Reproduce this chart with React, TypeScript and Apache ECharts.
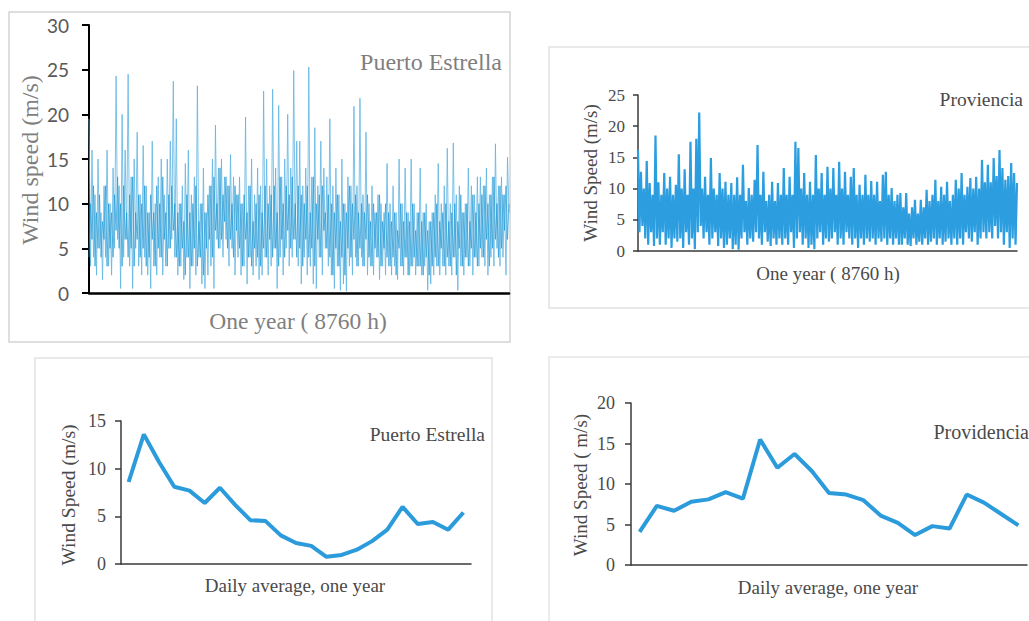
import React, { useEffect, useRef } from "react";
import * as echarts from "echarts";

// Puerto Estrella hourly wind speed (m/s): outer peaks/troughs across the year
const puertoHourly: number[] = [
  19.5, 3, 16, 4, 11, 2, 15, 5, 9, 1.5, 12, 4, 16, 3, 10, 2, 14, 5, 24.3, 6,
  12, 0.5, 20, 4, 16, 6, 24.5, 3, 13, 0.5, 15, 5, 18, 3, 11, 2, 16.5, 4, 12, 2,
  9, 0.5, 17, 3, 10, 2, 13, 4, 15, 2, 11, 3, 15, 5, 17, 6, 23.7, 4, 19.5, 2,
  10, 3, 12, 1.5, 14.5, 4, 16, 0.5, 11, 3, 13, 2, 23.2, 4, 10, 1, 14, 0.5, 9, 2,
  12, 3, 15, 0.5, 18.8, 6, 14, 5, 15, 4, 13, 6, 12, 3, 15.5, 5, 13, 2, 11, 4,
  13, 2, 10, 3, 19.7, 1, 12, 4, 15, 2, 11, 3, 14, 1.5, 12, 2, 22.6, 4, 15, 2,
  12, 3, 22.8, 5, 14, 0.5, 21, 4, 13, 2, 15, 5, 20, 3, 14, 4, 24.9, 6, 17, 3,
  17, 1, 12, 4, 14, 2, 25.3, 3, 13, 1, 18.5, 0.5, 12, 4, 17, 2, 14, 5, 13, 3,
  19.5, 2, 12, 0.5, 14, 3, 11, 0.3, 15, 1, 10, 0.2, 13, 3, 12, 2, 20.9, 4, 12, 3,
  21.8, 4, 11, 3, 18, 2, 10, 3, 12, 2, 9, 4, 11, 1.5, 10, 3, 9, 2, 14.5, 3,
  10, 2, 12, 3, 9, 1.5, 15, 3, 10, 2, 14, 4, 9, 2, 15, 3, 10, 2, 9, 3,
  14, 2, 9, 3, 10, 0.3, 8, 1, 9, 2, 11, 3, 14.5, 2, 10, 3, 12, 2, 16.2, 3,
  10, 2, 16.8, 4, 11, 0.3, 12, 3, 9, 2, 10, 4, 14, 3, 12, 2, 11, 4, 13, 3,
  13, 4, 12, 3, 14, 2, 11, 4, 13, 3, 16.7, 5, 12, 3, 13, 4, 11, 2, 15.2, 9,
];

// Puerto Estrella hourly wind speed (m/s): dense core band
const puertoHourlyCore: number[] = [
  4, 10, 6, 12, 3, 9, 5, 11, 4, 8, 6, 12, 3, 10, 5, 9, 4, 11, 7, 13,
  5, 10, 3, 12, 6, 9, 4, 11, 5, 13, 3, 9, 6, 11, 4, 10, 5, 12, 3, 9,
  4, 11, 6, 9, 3, 12, 5, 10, 4, 13, 6, 9, 3, 11, 5, 12, 7, 10, 4, 9,
  3, 10, 5, 8, 2, 11, 4, 9, 3, 10, 5, 12, 3, 8, 4, 10, 2, 9, 5, 11,
  6, 12, 4, 13, 7, 10, 5, 14, 6, 11, 8, 13, 5, 12, 6, 10, 4, 12, 7, 11,
  5, 10, 3, 11, 6, 9, 4, 12, 3, 8, 5, 10, 4, 11, 3, 9, 5, 12, 4, 10,
  6, 11, 4, 12, 5, 9, 3, 13, 6, 10, 4, 12, 7, 11, 5, 13, 6, 10, 4, 12,
  5, 11, 3, 10, 6, 12, 4, 9, 5, 13, 3, 10, 6, 11, 4, 12, 7, 9, 5, 11,
  4, 10, 2, 9, 5, 11, 3, 8, 4, 10, 2, 9, 5, 12, 4, 10, 6, 11, 3, 9,
  5, 10, 3, 9, 6, 11, 4, 8, 3, 10, 5, 9, 4, 11, 3, 8, 5, 10, 4, 9,
  3, 8, 4, 9, 2, 7, 5, 10, 3, 8, 4, 9, 2, 8, 3, 10, 4, 7, 3, 9,
  3, 8, 2, 9, 4, 7, 2, 8, 3, 9, 4, 10, 3, 8, 5, 9, 3, 10, 4, 8,
  3, 9, 4, 10, 2, 8, 5, 11, 3, 9, 4, 10, 3, 8, 5, 11, 4, 9, 3, 10,
  5, 11, 4, 12, 6, 10, 3, 11, 5, 13, 6, 10, 4, 12, 5, 11, 7, 12, 6, 10,
];

// Proviencia hourly wind speed (m/s)
const proviHourly: number[] = [
  16.2, 3, 12.7, 4, 10, 2, 14.4, 1, 10.9, 3, 9, 0.8, 18.5, 2, 11, 1, 9, 3, 12.5, 1,
  10, 2, 11.9, 0.5, 9, 2, 10.6, 1.5, 15.5, 2, 10, 0.5, 13.1, 3, 9, 1, 17.5, 2, 10, 0.3,
  18, 3, 22.2, 4, 10, 2, 11.9, 3, 9, 1, 14.9, 2, 10, 3, 9, 0.8, 12.5, 2, 10, 0.5,
  11.1, 1, 9, 2, 10.9, 0.3, 9, 1, 11.8, 0.2, 9, 2, 13.8, 3, 8, 1, 10.1, 2, 9, 1.5,
  11.4, 3, 17, 2, 9, 1, 12.7, 3, 8, 1.5, 9, 0.8, 11.1, 2, 8, 1, 10.9, 2, 9, 1,
  13.3, 2, 9, 1, 11.9, 3, 9, 0.5, 17.5, 2, 16.5, 3, 10, 1, 12.5, 2, 9, 0.5, 11.1, 1,
  9, 0.3, 15.4, 2, 10, 3, 12.5, 1, 9, 2, 13.5, 1.5, 10, 2, 13.3, 3, 9, 1, 14.3, 2,
  10, 1, 12.7, 3, 9, 2, 11.9, 1, 13.3, 2, 9, 0.5, 10.6, 2, 9, 1, 12.2, 2, 9, 1.5,
  11.2, 2, 9, 1, 11.1, 2, 8, 1.5, 12.2, 2, 12.7, 1, 9, 2, 10.1, 1, 8, 2, 9, 1,
  9.3, 1, 7, 2, 9.3, 1, 6, 0.8, 7, 2, 8.2, 1, 6, 1.5, 8.2, 1, 7, 2, 9.8, 1,
  8, 1.5, 9, 2, 11.4, 1, 8, 2, 10.3, 1, 9, 1.5, 11.1, 2, 8, 1, 9, 2, 11.4, 1,
  10, 2, 12.5, 1, 9, 3, 10.3, 2, 11.7, 1.5, 10, 3, 11.9, 1, 10, 2, 14.6, 3, 11, 2,
  13.8, 3, 11, 2, 14.9, 4, 12, 2, 16.2, 3, 13.3, 1, 11.4, 3, 12, 0.5, 14.1, 2, 12.5, 1, 10.9,
];

// Daily average (one year) wind speed (m/s)
const puertoDaily: number[] = [
  8.6, 13.6, 10.7, 8.1, 7.7, 6.4, 8.0, 6.2, 4.6, 4.5, 3.0, 2.2, 1.9, 0.75, 0.95, 1.5, 2.4, 3.6, 6.0, 4.2, 4.4, 3.6, 5.4,
];
const provDaily: number[] = [
  4.1, 7.3, 6.7, 7.8, 8.1, 9.0, 8.2, 15.5, 12.0, 13.7, 11.6, 8.9, 8.7, 8.0, 6.1, 5.2, 3.7, 4.8, 4.5, 8.7, 7.7, 6.3, 4.9,
];

// Axis ranges [min, max, interval]
const axisTL = [0, 30, 5];
const axisTR = [0, 25, 5];
const axisBL = [0, 15, 5];
const axisBR = [0, 20, 5];

const SERIF = '"Liberation Serif", "DejaVu Serif", serif';
const SANS = 'Lato, "Open Sans", sans-serif';

function idx(n: number): string[] {
  const out: string[] = [];
  for (let i = 0; i < n; i++) out.push(String(i + 1));
  return out;
}

function yAxis(grid: number, r: number[], o: any) {
  return {
    gridIndex: grid,
    type: "value",
    min: r[0],
    max: r[1],
    interval: r[2],
    axisLine: { show: true, lineStyle: { color: o.lineColor, width: o.lineWidth } },
    axisTick: { show: true, length: o.tick, lineStyle: { color: o.lineColor, width: o.lineWidth } },
    axisLabel: { color: o.labelColor, fontSize: o.fontSize, fontFamily: o.font, margin: o.margin },
    splitLine: { show: false },
  };
}

function xAxis(grid: number, n: number, gap: boolean, o: any) {
  return {
    gridIndex: grid,
    type: "category",
    data: idx(n),
    boundaryGap: gap,
    axisLine: { show: true, onZero: false, lineStyle: { color: o.lineColor, width: o.lineWidth } },
    axisTick: { show: false },
    axisLabel: { show: false },
    splitLine: { show: false },
  };
}

function txt(x: number, y: number, text: string, size: number, color: string, align: string, rot = 0, font = SERIF) {
  return {
    type: "text",
    x,
    y,
    rotation: rot,
    style: { text, fontSize: size, fontFamily: font, fill: color, align, verticalAlign: "middle" },
  };
}

function frame(x: number, y: number, w: number, h: number, color: string) {
  return {
    type: "rect",
    shape: { x, y, width: w, height: h },
    style: { fill: "none", stroke: color, lineWidth: 1.5 },
    z: 0,
  };
}

export default function App() {
  const ref = useRef<HTMLDivElement>(null);
  useEffect(() => {
    const chart = echarts.init(ref.current!, null, { renderer: "svg" });
    const tl = { lineColor: "#000", lineWidth: 2, tick: 7, labelColor: "#595959", fontSize: 19, font: SANS, margin: 20 };
    const tr = { lineColor: "#3a3a3a", lineWidth: 1.5, tick: 5, labelColor: "#4a4a4a", fontSize: 17, font: SERIF, margin: 13 };
    const bl = { lineColor: "#3a3a3a", lineWidth: 1.5, tick: 6, labelColor: "#4a4a4a", fontSize: 18, font: SERIF, margin: 15 };
    const br = { lineColor: "#3a3a3a", lineWidth: 1.5, tick: 6, labelColor: "#4a4a4a", fontSize: 18, font: SERIF, margin: 16 };
    const option: any = {
      animation: false,
      backgroundColor: "#ffffff",
      grid: [
        { left: 89, top: 25, width: 420, height: 268 },
        { left: 638, top: 95, width: 379, height: 156 },
        { left: 121, top: 421, width: 350, height: 143 },
        { left: 631, top: 403, width: 396, height: 162 },
      ],
      xAxis: [
        xAxis(0, puertoHourly.length, false, { lineColor: "#000", lineWidth: 2.5 }),
        xAxis(1, proviHourly.length, false, { lineColor: "#3a3a3a", lineWidth: 1.5 }),
        xAxis(2, puertoDaily.length, true, { lineColor: "#3a3a3a", lineWidth: 1.5 }),
        xAxis(3, provDaily.length, true, { lineColor: "#3a3a3a", lineWidth: 1.5 }),
      ],
      yAxis: [yAxis(0, axisTL, tl), yAxis(1, axisTR, tr), yAxis(2, axisBL, bl), yAxis(3, axisBR, br)],
      series: [
        {
          type: "line",
          xAxisIndex: 0,
          yAxisIndex: 0,
          data: puertoHourly,
          symbol: "none",
          lineStyle: { color: "#5fb4e2", width: 1.0, opacity: 0.8 },
        },
        {
          type: "line",
          xAxisIndex: 0,
          yAxisIndex: 0,
          data: puertoHourlyCore,
          symbol: "none",
          lineStyle: { color: "#1996d4", width: 0.9, opacity: 0.75 },
        },
        {
          type: "line",
          xAxisIndex: 1,
          yAxisIndex: 1,
          data: proviHourly,
          symbol: "none",
          lineStyle: { color: "#2c9ee0", width: 2.2 },
        },
        {
          type: "line",
          xAxisIndex: 2,
          yAxisIndex: 2,
          data: puertoDaily,
          symbol: "none",
          lineStyle: { color: "#2b9bdb", width: 4 },
        },
        {
          type: "line",
          xAxisIndex: 3,
          yAxisIndex: 3,
          data: provDaily,
          symbol: "none",
          lineStyle: { color: "#2b9bdb", width: 4 },
        },
      ],
      graphic: [
        frame(9, 12, 501, 330, "#d4d4d4"),
        frame(549, 47, 490, 261, "#e2e2e2"),
        frame(35, 358, 457, 270, "#e2e2e2"),
        frame(549, 357, 490, 270, "#e6e6e6"),
        txt(502, 62, "Puerto Estrella", 24, "#7f7f7f", "right"),
        txt(298, 321, "One year ( 8760 h)", 23.5, "#7f7f7f", "center"),
        txt(30, 160, "Wind speed (m/s)", 24, "#7f7f7f", "center", Math.PI / 2),
        txt(1023, 99, "Proviencia", 19.5, "#4a4a4a", "right"),
        txt(828, 273, "One year ( 8760 h)", 19, "#4a4a4a", "center"),
        txt(590, 173, "Wind Speed (m/s)", 19, "#4a4a4a", "center", Math.PI / 2),
        txt(485, 434, "Puerto Estrella", 19.5, "#4a4a4a", "right"),
        txt(295, 585, "Daily average, one year", 19, "#4a4a4a", "center"),
        txt(68, 495, "Wind Speed (m/s)", 19.5, "#4a4a4a", "center", Math.PI / 2),
        txt(1029, 432, "Providencia", 20, "#4a4a4a", "right"),
        txt(828, 587, "Daily average, one year", 19, "#4a4a4a", "center"),
        txt(580, 485, "Wind Speed ( m/s)", 19, "#4a4a4a", "center", Math.PI / 2),
      ],
    };
    chart.setOption(option);
    return () => chart.dispose();
  }, []);
  return (
    <div
      ref={ref}
      style={{ position: "fixed", left: 0, top: 0, width: 1029, height: 621, background: "#fff" }}
    />
  );
}
